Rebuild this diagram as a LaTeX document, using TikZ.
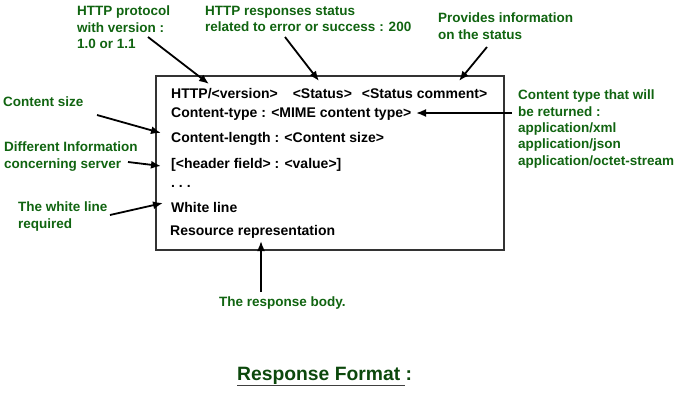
\documentclass[tikz,border=0pt]{standalone}
\usepackage{fontspec}
\setmainfont{Liberation Sans}
\usetikzlibrary{arrows.meta}
\definecolor{lblgreen}{RGB}{16,100,16}
\definecolor{titlegreen}{RGB}{12,72,12}
\tikzset{
  x=1pt,y=-1pt,
  boxtext/.style={anchor=base west,inner sep=0pt,font=\fontsize{14}{17}\selectfont\bfseries,text=black},
  lbl/.style={anchor=north west,inner sep=0pt,align=left,font=\fontsize{13.5}{16.3}\selectfont\bfseries,text=lblgreen},
  pointer/.style={line width=1.8pt,-{Latex[length=10pt,width=8pt]}}
}
\begin{document}
\begin{tikzpicture}
\useasboundingbox (0,0) rectangle (697,410);
\node[draw=black!80,line width=1.3pt,minimum width=348pt,minimum height=174pt,inner sep=0pt] (box) at (330,163) {};
% box text
\node[boxtext] (l1) at (171,98) {HTTP/<version>\hspace{15pt}<Status>\hspace{10pt}<Status comment>};
\node[boxtext] (l2) at (171,117) {Content-type : <MIME content type>};
\node[boxtext] (l3) at (171,142) {Content-length : <Content size>};
\node[boxtext] (l4) at (171,168) {[<header field> : <value>]};
\node[boxtext] (l5) at (171,187) {.\ .\ .};
\node[boxtext] (l6) at (171,212) {White line};
\node[boxtext] (l7) at (170,235) {Resource representation};
% green labels
\node[lbl] (g1) at (77,6) {HTTP protocol\\with version :\\1.0 or 1.1};
\node[lbl] (g2) at (205,6) {HTTP responses status\\related to error or success : 200};
\node[lbl] (g3) at (438,13) {Provides information\\on the status};
\node[lbl] (g4) at (518,90) {Content type that will\\be returned :\\application/xml\\application/json\\application/octet-stream};
\node[lbl] (g5) at (3,97) {Content size};
\node[lbl] (g6) at (4,142) {Different Information\\concerning server};
\node[lbl] (g7) at (18,202) {The white line\\required};
\node[lbl] (g8) at (219,297) {The response body.};
\node[anchor=base west,inner sep=0pt,font=\fontsize{19.3}{22}\selectfont\bfseries,text=titlegreen] (title) at (237,380) {Response Format :};
\draw[black!75,line width=1pt] (title.base west) ++(0,5) coordinate (ulA) -- (405,385) coordinate (ulB);
% arrow ends
\coordinate (t1) at (148,37); \coordinate (h1) at (209,84);
\coordinate (t2) at (285,37); \coordinate (h2) at (319,81);
\coordinate (t3) at (487,47); \coordinate (h3) at (459,81);
\coordinate (t4) at (512,113); \coordinate (h4) at (416,113);
\coordinate (t5) at (97,115); \coordinate (h5) at (161,133);
\coordinate (t6) at (128,162); \coordinate (h6) at (161,166);
\coordinate (t7) at (110,215); \coordinate (h7) at (163,203);
\coordinate (t8) at (261,292); \coordinate (h8) at (261,241);
\draw[pointer] (t1) -- (h1);
\draw[pointer] (t2) -- (h2);
\draw[pointer] (t3) -- (h3);
\draw[pointer] (t4) -- (h4);
\draw[pointer] (t5) -- (h5);
\draw[pointer] (t6) -- (h6);
\draw[pointer] (t7) -- (h7);
\draw[pointer] (t8) -- (h8);
\end{tikzpicture}
\end{document}
